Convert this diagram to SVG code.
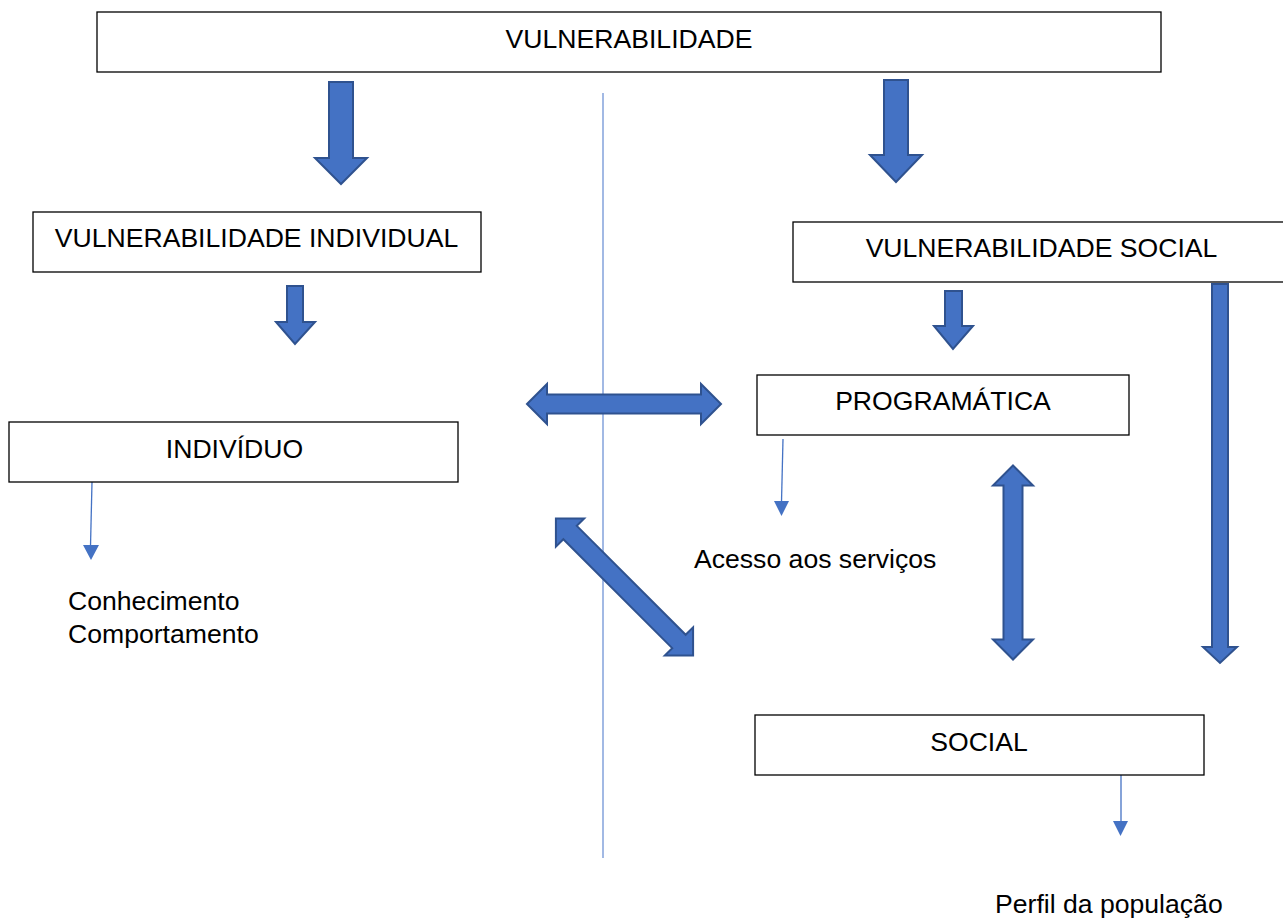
<svg xmlns="http://www.w3.org/2000/svg" width="1283" height="918" viewBox="0 0 1283 918">
<style>
.box{fill:#fff;stroke:#000;stroke-width:1.3}
.t{font-family:"Liberation Sans",Arial,sans-serif;font-size:26.6px;fill:#000}
.c{text-anchor:middle}
.blk{fill:#4472C4;stroke:#2F528F;stroke-width:2;stroke-linejoin:miter}
.thin{stroke:#4472C4;stroke-width:1.3;fill:none}
.hd{fill:#4472C4}
</style>
<defs>
<path id="dbl" d="M-97,0 L-77,-20 L-77,-9.5 L77,-9.5 L77,-20 L97,0 L77,20 L77,9.5 L-77,9.5 L-77,20 Z"/>
</defs>
<rect width="1283" height="918" fill="#fff"/>
<g id="divider"><line x1="603" y1="93" x2="603" y2="858" stroke="#7094D6" stroke-width="1.3"/></g>
<g id="connectors">
<path class="blk" d="M329,82 H353 V158 H367 L341,184 L315,158 H329 Z"/>
<path class="blk" d="M884,80 H908 V155 H922 L896,182 L870,155 H884 Z"/>
<path class="blk" d="M287,286 H303 V322 H315 L295,344 L276,322 H287 Z"/>
<path class="blk" d="M945,291 H962 V326 H973 L953,349 L934,326 H945 Z"/>
<path class="blk" d="M1212,284 H1228 V647 H1237 L1220,663 L1203,647 H1212 Z"/>
<use href="#dbl" class="blk" transform="translate(624,404)"/>
<use href="#dbl" class="blk" transform="translate(624.5,587) rotate(45)"/>
<use href="#dbl" class="blk" transform="translate(1013,562.5) rotate(90)"/>
<line class="thin" x1="92" y1="482" x2="90.5" y2="546"/>
<polygon class="hd" points="83,545 99,545 91,560"/>
<line class="thin" x1="783" y1="439" x2="781.5" y2="502"/>
<polygon class="hd" points="774,501 789,501 781.5,516"/>
<line class="thin" x1="1121" y1="774" x2="1121" y2="822"/>
<polygon class="hd" points="1113,821 1128,821 1120.5,836"/>
</g>
<g id="n-vuln"><rect class="box" x="97" y="12" width="1064" height="60"/><text class="t c" x="629" y="48">VULNERABILIDADE</text></g>
<g id="n-ind"><rect class="box" x="33" y="212" width="448" height="60"/><text class="t c" x="256.5" y="247">VULNERABILIDADE INDIVIDUAL</text></g>
<g id="n-soc"><rect class="box" x="793" y="222" width="500" height="60"/><text class="t c" x="1041.5" y="257">VULNERABILIDADE SOCIAL</text></g>
<g id="n-prog"><rect class="box" x="757" y="375" width="372" height="60"/><text class="t c" x="943" y="410">PROGRAMÁTICA</text></g>
<g id="n-indiv"><rect class="box" x="9" y="422" width="449" height="60"/><text class="t c" x="234.5" y="458">INDIVÍDUO</text></g>
<g id="n-social"><rect class="box" x="755" y="715" width="449" height="60"/><text class="t c" x="979" y="751">SOCIAL</text></g>
<g id="labels">
<text class="t" x="68" y="610">Conhecimento</text>
<text class="t" x="68" y="643">Comportamento</text>
<text class="t" x="694" y="568">Acesso aos serviços</text>
<text class="t" x="995" y="913">Perfil da população</text>
</g>
</svg>
